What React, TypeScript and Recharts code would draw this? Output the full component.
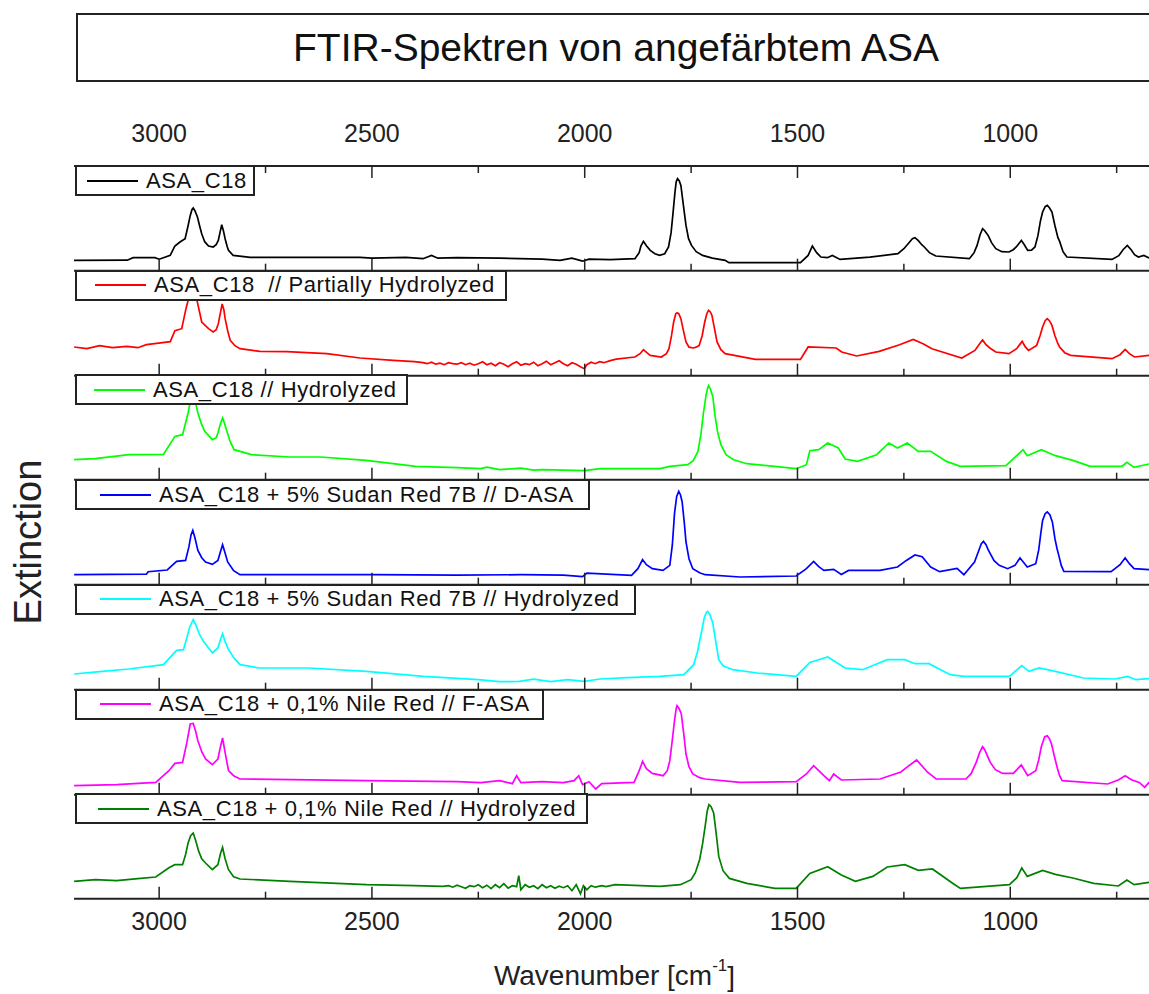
import { Legend, Line, LineChart, XAxis, YAxis } from 'recharts'

type Pt = [number, number]

// wavenumber [cm-1], extinction above the panel baseline (arb. units)
const asaC18: Pt[] = [
  [3200, 10.3], [3075, 10.5], [3061, 13], [3010, 13], [3000, 11.5], [2990, 13], [2974, 15.3],
  [2963, 24.7], [2951, 28.7], [2939, 32], [2932, 45], [2927, 55], [2923, 61], [2920, 62.7],
  [2916, 60], [2910, 53.7], [2905, 45], [2900, 37], [2893, 29], [2884, 24.7], [2873, 23.7],
  [2866, 26], [2861, 30.3], [2856, 40], [2853, 46], [2849, 40], [2845, 32], [2840, 24],
  [2837, 20.3], [2830, 17], [2826, 15.3], [2786, 13.3], [2528, 13.3], [2500, 12.5], [2420, 13.3],
  [2380, 12], [2360, 15.3], [2345, 12.5], [2300, 13], [2200, 12.5], [2100, 11.5], [2058, 10.3],
  [2030, 12.5], [2005, 9.5], [1990, 11.5], [1940, 11], [1882, 12], [1872, 18], [1868, 24.7],
  [1862, 29.3], [1855, 25], [1846, 20.3], [1835, 17], [1824, 15.3], [1812, 17], [1803, 23.7],
  [1797, 38], [1793, 55.3], [1788, 78], [1785, 89], [1782, 92], [1778, 90], [1774, 85.3],
  [1768, 65], [1762, 45.3], [1756, 32], [1749, 25.3], [1738, 19], [1723, 15.3], [1700, 12.5],
  [1670, 10.3], [1661, 8], [1493, 8], [1475, 15.3], [1465, 24.7], [1455, 18], [1445, 13.7],
  [1430, 13], [1418, 15.3], [1400, 11.3], [1330, 13.5], [1264, 17], [1250, 22], [1238, 28],
  [1230, 32], [1224, 33], [1216, 30], [1208, 26], [1202, 23.7], [1190, 18], [1175, 14.7],
  [1096, 12], [1085, 18], [1078, 25.3], [1071, 36], [1065, 42], [1060, 40], [1052, 35.3],
  [1044, 28], [1034, 22], [1020, 19], [1003, 18.7], [993, 21], [986, 23.7], [974, 30.3],
  [967, 26], [959, 20.3], [950, 20.5], [942, 23.7], [935, 35], [929, 50], [924, 58.7], [918, 64],
  [913, 65.3], [908, 63], [902, 58.7], [895, 45], [888, 33], [884, 29.3], [876, 19], [867, 13.7],
  [761, 11.3], [745, 15], [735, 21], [725, 25.3], [716, 21], [708, 16], [699, 13.7], [686, 15.3],
  [674, 12.7], [660, 13],
]

const asaC18PartHydro: Pt[] = [
  [3200, 28.7], [3170, 27], [3140, 30], [3110, 28], [3076, 29.3], [3050, 28], [3030, 31],
  [3006, 32.3], [2974, 34], [2963, 45], [2947, 47], [2937, 67], [2931, 77], [2920, 104],
  [2912, 77], [2900, 53.7], [2884, 47], [2873, 43.7], [2866, 46], [2861, 52], [2856, 63],
  [2852, 71.7], [2848, 66], [2845, 57], [2839, 45], [2833, 35.3], [2822, 30], [2810, 27],
  [2763, 24.3], [2700, 24], [2606, 22], [2528, 17.7], [2450, 15.3], [2400, 14], [2380, 13],
  [2370, 12], [2360, 13.5], [2350, 11.5], [2340, 12.5], [2330, 11], [2320, 13], [2310, 12],
  [2300, 11.5], [2290, 13], [2280, 11], [2270, 12.5], [2260, 10.5], [2250, 12], [2240, 14],
  [2230, 11], [2220, 12.5], [2210, 10], [2200, 13], [2190, 11.5], [2180, 9], [2170, 12],
  [2160, 14], [2150, 10.5], [2140, 12], [2130, 11], [2120, 13.5], [2110, 10], [2100, 12],
  [2090, 14.5], [2080, 11], [2070, 13], [2060, 15], [2050, 12], [2040, 10], [2030, 13],
  [2020, 11.5], [2010, 9], [2001, 7], [1995, 11], [1985, 13.5], [1975, 12], [1965, 14],
  [1955, 13], [1940, 15], [1926, 16.5], [1882, 18.7], [1870, 22], [1862, 26], [1854, 23],
  [1846, 20.3], [1820, 18.7], [1808, 22], [1802, 27], [1796, 40], [1791, 53.7], [1786, 62],
  [1783, 63], [1779, 62], [1774, 57], [1768, 45], [1762, 33.7], [1755, 28.5], [1745, 27.7],
  [1738, 28.5], [1731, 30.3], [1724, 40], [1718, 53.7], [1713, 62], [1709, 65.3], [1705, 64],
  [1701, 60.3], [1695, 47], [1689, 33.7], [1680, 26], [1670, 22], [1599, 16.3], [1493, 16.3],
  [1475, 28.7], [1409, 27.7], [1396, 23.7], [1361, 19.7], [1308, 24.3], [1260, 31], [1228, 36.3],
  [1205, 32], [1184, 27], [1114, 17.7], [1083, 25.3], [1072, 32], [1065, 35.7], [1057, 31],
  [1048, 27.7], [1034, 23.7], [1003, 22], [985, 27], [972, 34.3], [965, 29], [957, 25.3],
  [938, 30.3], [930, 40], [924, 48.7], [918, 55], [913, 57], [908, 55], [902, 50.3], [895, 40],
  [888, 32], [884, 28.7], [872, 23], [858, 20.3], [761, 17], [742, 21], [730, 26.3], [720, 22],
  [708, 18.7], [674, 20.3], [660, 20],
]

const asaC18Hydro: Pt[] = [
  [3200, 20], [3150, 21], [3071, 25], [2990, 25.3], [2963, 43.3], [2945, 45], [2932, 66.7],
  [2926, 80], [2922, 85], [2916, 80], [2909, 66.7], [2900, 55], [2893, 48.3], [2875, 40],
  [2866, 42], [2862, 46.7], [2856, 56], [2851, 61.7], [2847, 57], [2842, 50], [2833, 38],
  [2824, 30], [2783, 25], [2693, 22.7], [2621, 22.7], [2513, 19.3], [2397, 13.3], [2300, 12],
  [2244, 11], [2230, 12.5], [2200, 10], [2150, 11.5], [2120, 9.5], [2100, 10], [2050, 9.5],
  [2001, 9], [1964, 11], [1823, 11], [1800, 13.3], [1758, 15], [1745, 19], [1734, 28.3],
  [1727, 45], [1721, 66.7], [1715, 84], [1711, 92], [1709, 94], [1705, 91], [1699, 83.3],
  [1694, 65], [1688, 48.3], [1680, 35], [1668, 25], [1650, 20], [1619, 16], [1503, 11],
  [1479, 15], [1471, 29], [1450, 30], [1429, 36.7], [1404, 31.7], [1388, 20.7], [1359, 18.3],
  [1314, 25], [1285, 36.7], [1265, 31.7], [1242, 36.7], [1216, 28.3], [1187, 28.3], [1150, 18.3],
  [1117, 13.3], [1010, 14], [985, 24], [970, 30], [960, 24], [927, 30], [894, 24], [853, 19.3],
  [812, 13.3], [738, 13.3], [726, 17.3], [709, 12.3], [674, 15.7], [660, 15.5],
]

const sudanDAsa: Pt[] = [
  [3200, 10], [3030, 10.5], [3026, 13], [2981, 14.7], [2959, 23.3], [2938, 24.3], [2930, 38],
  [2925, 50], [2921, 54.3], [2916, 47], [2909, 34.3], [2900, 27], [2891, 22.7], [2875, 20.3],
  [2862, 24.3], [2856, 33], [2851, 40], [2846, 33], [2839, 22.7], [2825, 14], [2810, 10],
  [2500, 10], [2300, 9.5], [2150, 10], [2050, 9.5], [2005, 8], [1995, 11.5], [1890, 9.3],
  [1875, 16], [1864, 25], [1855, 20], [1841, 16], [1816, 14.3], [1800, 19.3], [1794, 40],
  [1789, 71], [1784, 88], [1779, 93.3], [1775, 90], [1771, 82.7], [1766, 62], [1762, 42.7],
  [1755, 26], [1746, 16], [1730, 12], [1717, 10], [1635, 7.7], [1503, 8.7], [1479, 16],
  [1462, 23.3], [1450, 18], [1438, 14.3], [1415, 15.3], [1397, 10.3], [1380, 14.3], [1306, 14.3],
  [1265, 17.7], [1245, 24], [1224, 29.7], [1207, 28], [1187, 17.7], [1166, 13], [1125, 16.3],
  [1109, 10], [1084, 22.7], [1075, 33], [1068, 41], [1063, 43.3], [1057, 40], [1052, 35],
  [1047, 31], [1038, 24], [1026, 19.3], [1006, 16], [989, 19.3], [977, 26.7], [968, 22],
  [960, 17.7], [940, 21], [933, 35], [928, 52], [924, 64.3], [918, 71], [913, 72.7], [907, 70],
  [901, 62.7], [895, 46], [890, 36], [886, 29.3], [880, 19], [874, 13.3], [763, 13], [742, 20],
  [730, 26.7], [720, 21], [709, 16], [674, 15], [660, 15],
]

const sudanHydro: Pt[] = [
  [3200, 15.7], [3140, 18], [3071, 20.7], [2990, 25], [2959, 39.3], [2943, 40], [2935, 52],
  [2928, 63], [2920, 70], [2913, 64], [2905, 55], [2896, 48.3], [2875, 36.7], [2862, 41.7],
  [2856, 50], [2851, 56], [2845, 48], [2837, 40], [2823, 31], [2810, 25], [2765, 21.7],
  [2648, 21.7], [2513, 18.3], [2379, 13.3], [2250, 10], [2200, 8], [2154, 8.3], [2120, 10.5],
  [2080, 8], [2040, 10], [2001, 8.3], [1964, 10.7], [1900, 12], [1823, 13.3], [1767, 15],
  [1744, 25], [1735, 38], [1726, 56.7], [1719, 72], [1714, 77.5], [1711, 78.3], [1706, 75],
  [1699, 66.7], [1692, 48], [1685, 30], [1675, 24], [1652, 20], [1594, 16.7], [1503, 13.3],
  [1471, 27.3], [1429, 32.7], [1388, 21.7], [1347, 20], [1289, 30], [1248, 30], [1224, 26],
  [1191, 26], [1141, 15], [1109, 13.3], [1002, 13.3], [973, 24], [956, 18.3], [932, 21.7],
  [894, 18.3], [828, 11.7], [755, 10.7], [724, 13.3], [705, 10], [674, 11], [660, 11],
]

const nileFAsa: Pt[] = [
  [3200, 9], [3100, 10], [3008, 12.3], [2977, 24], [2963, 31.3], [2945, 32.3], [2935, 52],
  [2927, 70.7], [2920, 71.3], [2914, 63], [2909, 54], [2900, 43], [2891, 35.7], [2875, 30],
  [2862, 35.7], [2856, 48], [2851, 56.7], [2845, 42], [2837, 24], [2825, 19], [2810, 15.7],
  [2513, 14], [2300, 13], [2244, 12], [2200, 14], [2170, 11], [2160, 19], [2150, 12],
  [2100, 13], [2050, 12], [2025, 14], [2014, 19], [2005, 10], [1990, 13], [1974, 5.7],
  [1960, 11], [1884, 12.3], [1872, 24], [1864, 33.3], [1855, 26], [1841, 21.3], [1816, 19],
  [1806, 24], [1800, 34], [1794, 55], [1789, 74], [1785, 86], [1783, 89], [1778, 86],
  [1773, 80.7], [1767, 60], [1762, 40.7], [1755, 28], [1746, 20.7], [1730, 17], [1717, 15.7],
  [1635, 12.3], [1503, 13], [1479, 20.7], [1462, 29], [1450, 24], [1438, 19], [1425, 14],
  [1415, 20.7], [1397, 14.7], [1306, 15.7], [1257, 22.7], [1235, 30], [1220, 34.7], [1208, 29],
  [1195, 22.7], [1174, 15.7], [1104, 15.7], [1092, 21], [1080, 32.3], [1072, 42], [1065, 48],
  [1060, 45], [1054, 39], [1047, 32.3], [1035, 25], [1018, 21.3], [993, 21.3], [974, 29.7],
  [959, 19], [940, 24], [933, 35], [927, 48], [919, 58], [913, 59], [908, 56], [903, 50.7],
  [896, 38], [889, 26], [884, 19], [878, 14], [771, 10.7], [745, 15], [730, 19], [715, 15],
  [697, 12.3], [684, 7.3], [674, 12.3], [660, 12],
]

const nileHydro: Pt[] = [
  [3200, 17.3], [3150, 19], [3100, 18], [3050, 20], [3008, 21.7], [2977, 31], [2963, 34],
  [2945, 34], [2938, 44], [2932, 55.7], [2926, 63], [2920, 65.7], [2914, 58], [2907, 47.3],
  [2900, 40], [2891, 35.7], [2875, 29], [2862, 34], [2856, 45], [2851, 51.3], [2845, 40],
  [2837, 29], [2825, 22], [2810, 19.7], [2693, 17.3], [2513, 14], [2400, 13], [2334, 12.3],
  [2320, 13], [2310, 11.5], [2300, 13.5], [2290, 12], [2280, 10.5], [2270, 13], [2260, 12],
  [2250, 14], [2240, 11], [2230, 13.5], [2220, 10], [2210, 14], [2200, 11], [2190, 15],
  [2180, 10.5], [2170, 13], [2160, 12], [2155, 23], [2150, 9], [2140, 14], [2130, 11.5],
  [2120, 13], [2110, 10], [2100, 14], [2090, 11], [2080, 13], [2070, 10.5], [2060, 12.5],
  [2050, 11], [2040, 13], [2030, 8], [2020, 14], [2010, 5], [2003, 13], [1995, 9], [1985, 13],
  [1975, 11.5], [1960, 13], [1950, 12], [1929, 14], [1823, 12.3], [1775, 14], [1750, 19],
  [1740, 26], [1730, 39], [1723, 55], [1717, 72.3], [1712, 88], [1708, 94], [1703, 92],
  [1697, 85.7], [1691, 65], [1685, 42.3], [1675, 28], [1660, 20.3], [1619, 15.3], [1553, 10.3],
  [1503, 10.3], [1471, 25.3], [1429, 32], [1397, 23.7], [1364, 17.3], [1323, 22.3], [1289, 31.7],
  [1248, 34], [1216, 28.3], [1183, 29.7], [1133, 14.7], [1117, 10.3], [1002, 14], [985, 20.7],
  [973, 30.7], [960, 22.3], [924, 28.3], [894, 24.3], [853, 20.7], [804, 15.3], [746, 12.7],
  [726, 18.7], [709, 14], [674, 16.3], [660, 16],
]

const SERIES_NAMES = [
  'ASA_C18',
  'ASA_C18  // Partially Hydrolyzed',
  'ASA_C18 // Hydrolyzed',
  'ASA_C18 + 5% Sudan Red 7B // D-ASA',
  'ASA_C18 + 5% Sudan Red 7B // Hydrolyzed',
  'ASA_C18 + 0,1% Nile Red // F-ASA',
  'ASA_C18 + 0,1% Nile Red // Hydrolyzed',
]
const SERIES = [asaC18, asaC18PartHydro, asaC18Hydro, sudanDAsa, sudanHydro, nileFAsa, nileHydro]
const WN_MAJOR = [3000, 2500, 2000, 1500, 1000]
const WN_MINOR = [2750, 2250, 1750, 1250, 750]
const Y_MAJOR = [6, 33.5, 61, 88.5]
const Y_MINOR = [19.75, 47.25, 74.75]

const COLORS = ['#000000', '#ff0000', '#00ff00', '#0000ff', '#00ffff', '#ff00ff', '#008000']
// [left padding, box width] of each legend box
const LEGEND_BOX = [
  [10, 178],
  [18, 432],
  [17, 333],
  [23, 515],
  [23, 561],
  [23, 469],
  [21, 513],
]

const FONT = '"Liberation Sans", Arial, Helvetica, sans-serif'
const INK = '#222'
const PLOT_LEFT = 74
const PLOT_W = 1081
const CHART_W = PLOT_LEFT + PLOT_W + 10
const PANEL_TOP = 166
const PANEL_H = 104.7
const TOP_AXIS_H = 60
const BOTTOM_AXIS_H = 95
const AXIS_LINE = { stroke: INK, strokeWidth: 2 }

function xTick(side: 'top' | 'bottom', labelled: boolean) {
  return (props: any) => {
    const { x, y, payload } = props
    const major = WN_MAJOR.includes(payload.value)
    const len = major ? 12 : 7
    const dir = side === 'top' ? 1 : -1
    return (
      <g>
        <line x1={x} x2={x} y1={y} y2={y + dir * len} stroke={INK} strokeWidth={1.5} />
        {labelled && major && (
          <text
            x={x}
            y={side === 'top' ? y - 33 : y + 22}
            textAnchor="middle"
            dominantBaseline="central"
            fontSize={25}
            fontFamily={FONT}
            fill={INK}
          >
            {payload.value}
          </text>
        )}
      </g>
    )
  }
}

function yTick(side: 'left' | 'right') {
  return (props: any) => {
    const { x, y, payload } = props
    const major = Y_MAJOR.includes(payload.value)
    const len = major ? 13 : 7
    const dir = side === 'left' ? 1 : -1
    return <line x1={x} x2={x + dir * len} y1={y} y2={y} stroke={INK} strokeWidth={1.5} />
  }
}

function AxisTitle(props: any) {
  const vb = props.viewBox
  return (
    <text
      x={vb.x + vb.width / 2}
      y={vb.y + 77}
      textAnchor="middle"
      dominantBaseline="central"
      fontSize={28}
      fontFamily={FONT}
      fill={INK}
    >
      Wavenumber [cm
      <tspan dy={-11} fontSize={17}>
        -1
      </tspan>
      <tspan dy={11} fontSize={28}>
        ]
      </tspan>
    </text>
  )
}

function LegendBox({ name, color, pad, width }: { name: string; color: string; pad: number; width: number }) {
  return (
    <div
      style={{
        display: 'flex',
        alignItems: 'center',
        boxSizing: 'border-box',
        height: 31,
        minWidth: width,
        border: `2px solid ${INK}`,
        background: '#fff',
        paddingLeft: pad,
        paddingRight: 6,
        fontFamily: FONT,
        fontSize: 22,
        letterSpacing: 0.6,
        color: '#111',
        whiteSpace: 'pre',
      }}
    >
      <span style={{ display: 'inline-block', width: 51, borderTop: `2px solid ${color}`, marginRight: 8 }} />
      <span>{name}</span>
    </div>
  )
}

function Panel({ index }: { index: number }) {
  const isFirst = index === 0
  const isLast = index === SERIES.length - 1
  const topH = isFirst ? TOP_AXIS_H : 0
  const bottomH = isLast ? BOTTOM_AXIS_H : 3
  const data = SERIES[index].map(([wn, v]) => ({ wn, v }))
  const [pad, boxW] = LEGEND_BOX[index]

  return (
    <div style={{ position: 'absolute', left: 0, top: PANEL_TOP + index * PANEL_H - topH }}>
      <LineChart
        width={CHART_W}
        height={PANEL_H + topH + bottomH}
        data={data}
        margin={{ top: 0, right: CHART_W - PLOT_LEFT - PLOT_W, bottom: 0, left: PLOT_LEFT }}
      >
        <XAxis
          dataKey="wn"
          type="number"
          domain={[660, 3200]}
          reversed
          allowDataOverflow
          ticks={[...WN_MAJOR, ...WN_MINOR]}
          interval={0}
          height={bottomH}
          tickSize={0}
          tickMargin={0}
          tickLine={false}
          tick={xTick('bottom', isLast)}
          axisLine={AXIS_LINE}
          label={isLast ? { content: AxisTitle } : undefined}
        />
        {isFirst && (
          <XAxis
            xAxisId="top"
            orientation="top"
            dataKey="wn"
            type="number"
            domain={[660, 3200]}
            reversed
            allowDataOverflow
            ticks={[...WN_MAJOR, ...WN_MINOR]}
            interval={0}
            height={TOP_AXIS_H}
            tickSize={0}
            tickMargin={0}
            tickLine={false}
            tick={xTick('top', true)}
            axisLine={AXIS_LINE}
          />
        )}
        <YAxis
          domain={[0, PANEL_H]}
          allowDataOverflow
          width={0}
          ticks={[...Y_MAJOR, ...Y_MINOR]}
          interval={0}
          tickSize={0}
          tickMargin={0}
          tickLine={false}
          tick={yTick('left')}
          axisLine={AXIS_LINE}
        />
        <YAxis
          yAxisId="right"
          orientation="right"
          domain={[0, PANEL_H]}
          width={0}
          ticks={Y_MAJOR}
          interval={0}
          tickSize={0}
          tickMargin={0}
          tickLine={false}
          tick={yTick('right')}
          axisLine={AXIS_LINE}
        />
        <Legend
          layout="vertical"
          align="center"
          verticalAlign="middle"
          wrapperStyle={{ left: PLOT_LEFT + 1, top: topH - 1, width: 'auto', height: 'auto' }}
          content={() => (
            <LegendBox name={SERIES_NAMES[index]} color={COLORS[index]} pad={pad} width={boxW} />
          )}
        />
        <Line
          type="linear"
          dataKey="v"
          stroke={COLORS[index]}
          strokeWidth={1.7}
          dot={false}
          activeDot={false}
          isAnimationActive={false}
        />
      </LineChart>
    </div>
  )
}

export default function App() {
  return (
    <div
      style={{
        position: 'absolute',
        left: 0,
        top: 0,
        width: 1149,
        height: 994,
        overflow: 'hidden',
        background: '#fff',
        fontFamily: FONT,
      }}
    >
      <div
        style={{
          position: 'absolute',
          left: 76,
          top: 13,
          width: 1080,
          height: 69,
          boxSizing: 'border-box',
          border: `2px solid ${INK}`,
          display: 'flex',
          alignItems: 'center',
          justifyContent: 'center',
          fontSize: 39,
          color: '#111',
        }}
      >
        FTIR-Spektren von angefärbtem ASA
      </div>
      <svg style={{ position: 'absolute', left: 0, top: 0 }} width={70} height={994}>
        <text
          x={27.5}
          y={542}
          transform="rotate(-90 27.5 542)"
          textAnchor="middle"
          dominantBaseline="central"
          fontSize={38}
          fontFamily={FONT}
          fill={INK}
        >
          Extinction
        </text>
      </svg>
      {SERIES.map((_, i) => (
        <Panel key={SERIES_NAMES[i]} index={i} />
      ))}
    </div>
  )
}
